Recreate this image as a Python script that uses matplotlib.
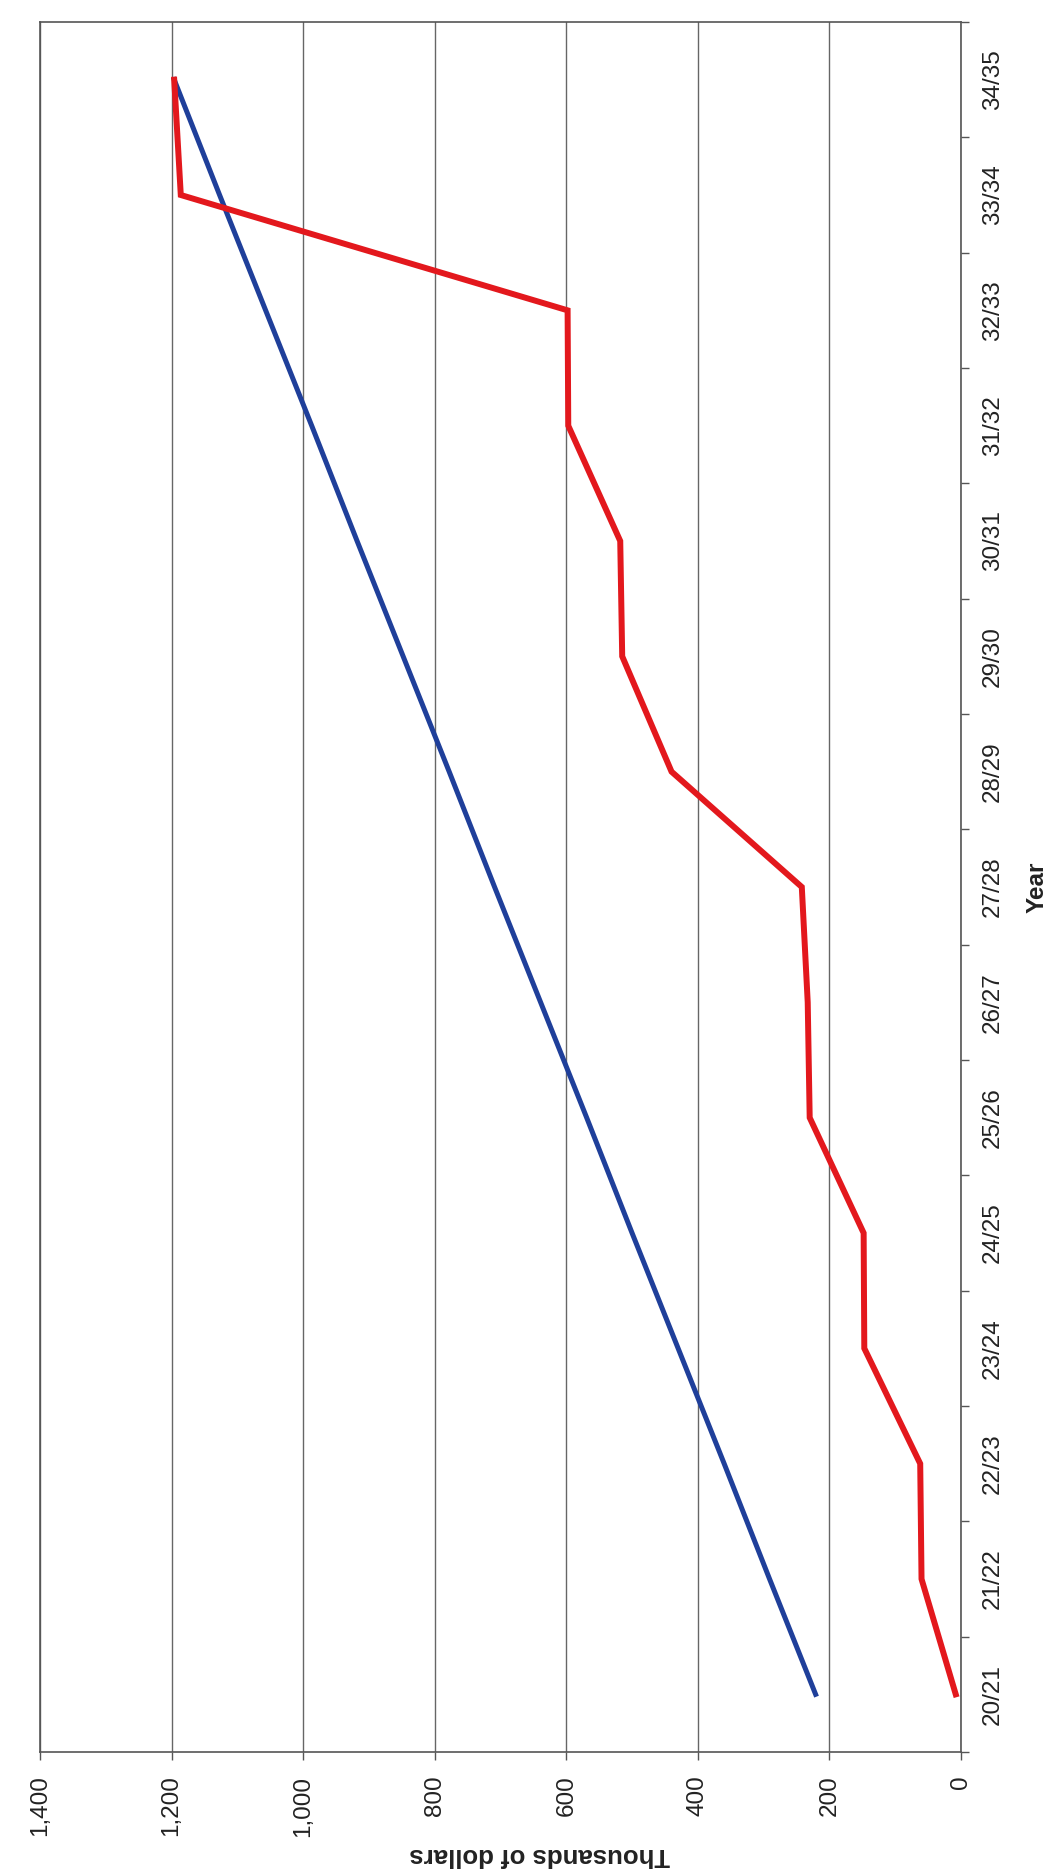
import matplotlib
matplotlib.use("Agg")
import matplotlib.pyplot as plt
from matplotlib.ticker import FixedLocator, FuncFormatter

plt.rcParams['font.family'] = ['Liberation Sans', 'DejaVu Sans']

years = ["20/21", "21/22", "22/23", "23/24", "24/25", "25/26", "26/27", "27/28",
         "28/29", "29/30", "30/31", "31/32", "32/33", "33/34", "34/35"]
red_values = [8, 60, 62, 147, 148, 230, 233, 242, 440, 515, 518, 597, 598, 1186, 1196]
blue_values = [221, 291, 360, 430, 500, 569, 639, 709, 778, 848, 918, 987, 1057, 1127, 1196]
value_ticks = [0, 200, 400, 600, 800, 1000, 1200, 1400]

W, H, DPI = 1053, 1872, 100
fig = plt.figure(figsize=(W / DPI, H / DPI), dpi=DPI)
fig.patch.set_facecolor("white")

# plot area in pixels (chart is shown rotated 90 degrees)
left_px, right_px, top_px, bottom_px = 40, 961, 22, 1752
ax = fig.add_axes([left_px / W, 1 - bottom_px / H,
                   (right_px - left_px) / W, (bottom_px - top_px) / H])

idx = list(range(len(years)))
ax.plot(blue_values, idx, color="#1f3f9a", lw=3.6, solid_joinstyle="miter", zorder=3)
ax.plot(red_values, idx, color="#e3181d", lw=4.3, solid_joinstyle="miter", zorder=4)

ax.set_xlim(1400, 0)
ax.set_ylim(-0.5, len(years) - 0.5)

# value axis (bottom)
ax.xaxis.set_major_locator(FixedLocator(value_ticks))
ax.xaxis.set_major_formatter(FuncFormatter(lambda v, p: f"{int(v):,}"))
ax.tick_params(axis="x", direction="out", length=6, width=1, color="#555555",
               pad=11, labelsize=17.5, labelrotation=90, labelcolor="#222222")
for lab in ax.get_xticklabels():
    lab.set_va("top")
    lab.set_ha("center")
ax.grid(axis="x", color="#666666", lw=1.0, zorder=1)

# category axis (right side)
ax.yaxis.tick_right()
ax.yaxis.set_major_locator(FixedLocator([i - 0.5 for i in range(len(years) + 1)]))
ax.yaxis.set_major_formatter(FuncFormatter(lambda v, p: ""))
ax.yaxis.set_minor_locator(FixedLocator(idx))
ax.yaxis.set_minor_formatter(FuncFormatter(lambda v, p: years[int(round(v))]
                                           if 0 <= int(round(v)) < len(years) else ""))
ax.tick_params(axis="y", which="major", direction="out", length=6, width=1,
               color="#555555", right=True, left=False)
ax.tick_params(axis="y", which="minor", length=0, pad=15, labelsize=17.5,
               labelrotation=90, labelcolor="#222222", right=True, left=False,
               labelright=True, labelleft=False)
for lab in ax.get_yticklabels(minor=True):
    lab.set_va("center")
    lab.set_ha("left")

for side in ["left", "right", "top", "bottom"]:
    ax.spines[side].set_color("#555555")
    ax.spines[side].set_linewidth(1.2)

ax.set_ylabel("Year", fontsize=17.5, fontweight="bold", rotation=90, color="#222222")
ax.yaxis.set_label_position("right")
ax.yaxis.set_label_coords((1037 - left_px) / (right_px - left_px), 0.5)
ax.yaxis.label.set_va("center")
ax.yaxis.label.set_ha("center")

ax.set_xlabel("Thousands of dollars", fontsize=18.5, fontweight="bold",
              rotation=180, color="#222222")
ax.xaxis.set_label_coords((540 - left_px) / (right_px - left_px),
                          (bottom_px - 1855) / (bottom_px - top_px))
ax.xaxis.label.set_va("center")
ax.xaxis.label.set_ha("center")

fig.savefig("out.png", dpi=DPI, facecolor="white")
